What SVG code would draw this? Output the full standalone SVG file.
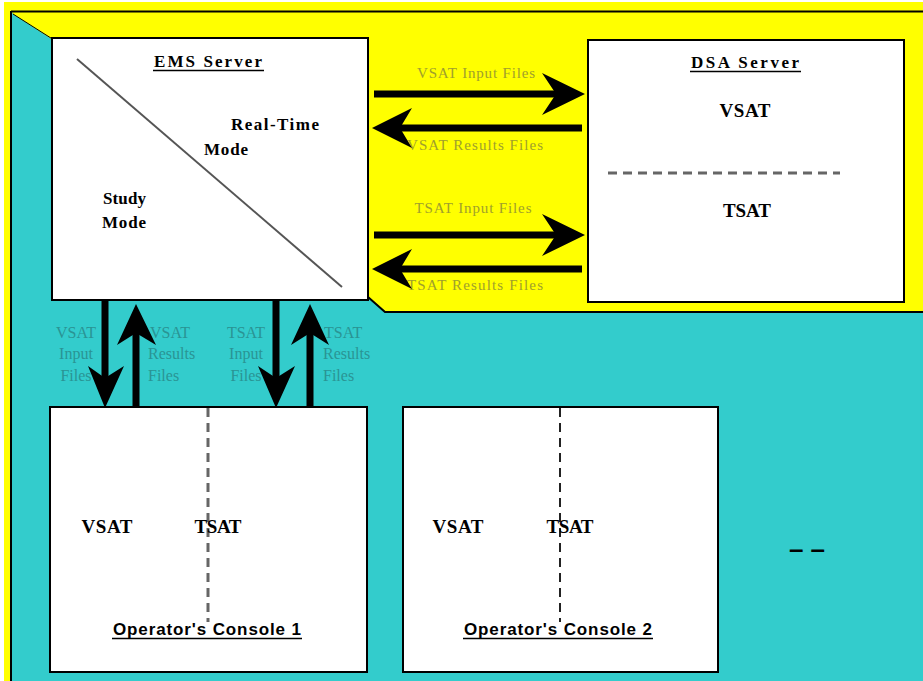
<svg xmlns="http://www.w3.org/2000/svg" width="923" height="681" viewBox="0 0 923 681">
<style>
.box{fill:#fff;stroke:#000;stroke-width:2}
.t{font-family:"Liberation Serif",serif;font-weight:bold;fill:#000}
.ts{font-family:"Liberation Sans",sans-serif;font-weight:bold;fill:#000}
.ly{font-family:"Liberation Serif",serif;font-size:15px;fill:#a0a02c}
.lc{font-family:"Liberation Serif",serif;font-size:16px;fill:#2a9494}
.ul{stroke:#000;stroke-width:1.5}
.shaft{stroke:#000;stroke-width:7;fill:none}
.head{fill:#000}
.dash{stroke:#666;stroke-width:3;stroke-dasharray:9 6;fill:none}
</style>
<rect x="0" y="0" width="923" height="681" fill="#fff"/>
<rect x="4" y="2" width="919" height="679" fill="#ffff00"/>
<rect x="12" y="12" width="911" height="669" fill="#33cccc"/>
<polygon points="12,12 923,12 923,311 385,311 368,297 368,40 53,40 13,14" fill="#ffff00"/>
<polyline points="368,297 385,312 923,312" fill="none" stroke="#000" stroke-width="2"/>
<line x1="13" y1="14" x2="54" y2="40" stroke="#000" stroke-width="1"/>
<line x1="11" y1="11.5" x2="923" y2="11.5" stroke="#000" stroke-width="2"/>
<line x1="11" y1="11" x2="11" y2="681" stroke="#000" stroke-width="2"/>

<g id="ems-server">
<rect class="box" x="52" y="38" width="316" height="262"/>
<line x1="77" y1="59" x2="342" y2="287" stroke="#555" stroke-width="2"/>
<text class="t" x="208" y="67" font-size="17" text-anchor="middle" textLength="108">EMS Server</text>
<line class="ul" x1="153" y1="70.5" x2="264" y2="70.5"/>
<text class="t" x="231" y="130" font-size="17" textLength="88">Real-Time</text>
<text class="t" x="204" y="155" font-size="17" textLength="44">Mode</text>
<text class="t" x="103" y="204" font-size="17" textLength="43">Study</text>
<text class="t" x="102" y="228" font-size="17" textLength="44">Mode</text>
</g>

<g id="dsa-server">
<rect class="box" x="588" y="40" width="316" height="262"/>
<text class="t" x="745" y="68" font-size="17" text-anchor="middle" textLength="108">DSA Server</text>
<line class="ul" x1="690" y1="71.5" x2="801" y2="71.5"/>
<text class="t" x="745" y="117" font-size="19" text-anchor="middle" textLength="51">VSAT</text>
<line class="dash" x1="608" y1="173" x2="840" y2="173"/>
<text class="t" x="747" y="217" font-size="19" text-anchor="middle" textLength="48">TSAT</text>
</g>

<g id="console-1">
<rect class="box" x="50" y="407" width="317" height="265"/>
<line class="dash" x1="208" y1="408" x2="208" y2="622"/>
<text class="t" x="107" y="533" font-size="19" text-anchor="middle" textLength="51">VSAT</text>
<text class="t" x="218" y="533" font-size="19" text-anchor="middle" textLength="47">TSAT</text>
<text class="ts" x="207" y="635" font-size="17" text-anchor="middle" textLength="188">Operator's Console 1</text>
<line class="ul" x1="112" y1="638.5" x2="302" y2="638.5"/>
</g>

<g id="console-2">
<rect class="box" x="403" y="407" width="315" height="265"/>
<line x1="560" y1="408" x2="560" y2="622" stroke="#222" stroke-width="2" stroke-dasharray="9 6"/>
<text class="t" x="458" y="533" font-size="19" text-anchor="middle" textLength="51">VSAT</text>
<text class="t" x="570" y="533" font-size="19" text-anchor="middle" textLength="47">TSAT</text>
<text class="ts" x="558" y="635" font-size="17" text-anchor="middle" textLength="188">Operator's Console 2</text>
<line class="ul" x1="463" y1="638.5" x2="653" y2="638.5"/>
</g>

<g id="more-consoles">
<text class="ts" x="807" y="558" font-size="26" text-anchor="middle">– –</text>
</g>

<g id="connectors">
<text class="ly" x="476" y="78" text-anchor="middle" textLength="118">VSAT Input Files</text>
<text class="ly" x="475" y="150" text-anchor="middle" textLength="136">VSAT Results Files</text>
<text class="ly" x="473" y="213" text-anchor="middle" textLength="117">TSAT Input Files</text>
<text class="ly" x="475" y="290" text-anchor="middle" textLength="136">TSAT Results Files</text>

<text class="lc" x="76" y="338" text-anchor="middle">VSAT</text>
<text class="lc" x="76" y="359" text-anchor="middle">Input</text>
<text class="lc" x="76" y="381" text-anchor="middle">Files</text>
<text class="lc" x="150" y="338">VSAT</text>
<text class="lc" x="148" y="359">Results</text>
<text class="lc" x="148" y="381">Files</text>
<text class="lc" x="246" y="338" text-anchor="middle">TSAT</text>
<text class="lc" x="246" y="359" text-anchor="middle">Input</text>
<text class="lc" x="246" y="381" text-anchor="middle">Files</text>
<text class="lc" x="324" y="338">TSAT</text>
<text class="lc" x="323" y="359">Results</text>
<text class="lc" x="323" y="381">Files</text>

<line class="shaft" x1="374" y1="94" x2="560" y2="94"/>
<polygon class="head" points="585,94 542,73 556,94 542,115"/>
<line class="shaft" x1="582" y1="128" x2="396" y2="128"/>
<polygon class="head" points="372,128 412,108 400,128 412,148"/>
<line class="shaft" x1="374" y1="235" x2="560" y2="235"/>
<polygon class="head" points="585,235 542,214 556,235 542,256"/>
<line class="shaft" x1="582" y1="269" x2="396" y2="269"/>
<polygon class="head" points="372,269 412,249 400,269 412,289"/>

<line class="shaft" x1="105" y1="300" x2="105" y2="385"/>
<polygon class="head" points="105,408 88,366 105,378 124,366"/>
<line class="shaft" x1="136" y1="407" x2="136" y2="325"/>
<polygon class="head" points="136,304 117,345 136,333 156,345"/>
<line class="shaft" x1="276" y1="300" x2="276" y2="385"/>
<polygon class="head" points="276,408 258,366 276,378 295,366"/>
<line class="shaft" x1="310" y1="407" x2="310" y2="325"/>
<polygon class="head" points="310,304 291,345 310,333 329,345"/>
</g>
</svg>
